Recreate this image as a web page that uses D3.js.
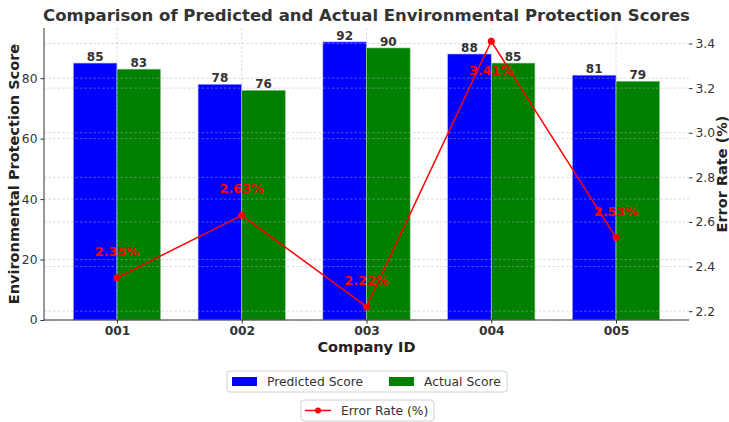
<!DOCTYPE html>
<html><head><meta charset="utf-8">
<script src="https://cdn.jsdelivr.net/npm/d3@7"></script>
<style>body{margin:0;background:#fff}svg{display:block}text{font-family:"DejaVu Sans",sans-serif}</style>
</head><body>
<svg id="c" width="729" height="422"></svg>
<script>
const categories = ["001","002","003","004","005"];
const predicted = [85,78,92,88,81];
const actual = [83,76,90,85,79];
const errorRate = [2.35,2.63,2.22,3.41,2.53];
const leftTicks = [0,20,40,60,80];
const rightTicks = [2.2,2.4,2.6,2.8,3.0,3.2,3.4];
const seriesNames = ["Predicted Score","Actual Score","Error Rate (%)"];

const svg = d3.select("#c");
const L = 44, R = 689, T = 28, B = 320;
const barW = 0.35;
const span = categories.length-1+2*barW;
const x = d3.scaleLinear().domain([-barW - 0.05*span, categories.length-1+barW+0.05*span]).range([L,R]);
const yL = d3.scaleLinear().domain([0, d3.max(predicted.concat(actual))*1.05]).range([B,T]);
const eMin = d3.min(errorRate), eMax = d3.max(errorRate), eP = (eMax-eMin)*0.05;
const yR = d3.scaleLinear().domain([eMin-eP, eMax+eP]).range([B,T]);
const textCol = "#333";
const gridStyle = g => g.attr("stroke","#b0b0b0").attr("stroke-opacity",0.6).attr("stroke-dasharray","2.5,2").attr("stroke-width",0.8);

// bars
const bw = x(barW) - x(0);
svg.append("g").selectAll("rect.p").data(predicted).join("rect")
  .attr("x",(d,i)=>x(i)-bw).attr("y",d=>yL(d)).attr("width",bw).attr("height",d=>B-yL(d))
  .attr("fill","#0000ff").attr("stroke","#b8b8ff").attr("stroke-width",0.6);
svg.append("g").selectAll("rect.a").data(actual).join("rect")
  .attr("x",(d,i)=>x(i)).attr("y",d=>yL(d)).attr("width",bw).attr("height",d=>B-yL(d))
  .attr("fill","#008000").attr("stroke","#a0d0a0").attr("stroke-width",0.6);

// grids
const grid = svg.append("g");
grid.selectAll("line.gl").data(leftTicks).join("line").attr("x1",L).attr("x2",R).attr("y1",d=>yL(d)).attr("y2",d=>yL(d)).call(gridStyle);
grid.selectAll("line.gv").data(categories).join("line").attr("x1",(d,i)=>x(i)).attr("x2",(d,i)=>x(i)).attr("y1",T).attr("y2",B).call(gridStyle);
grid.selectAll("line.gr").data(rightTicks).join("line").attr("x1",L).attr("x2",R).attr("y1",d=>yR(d)).attr("y2",d=>yR(d)).call(gridStyle);

// bar labels
svg.append("g").selectAll("text").data(predicted).join("text")
  .attr("x",(d,i)=>x(i)-bw/2).attr("y",d=>yL(d)-2).attr("text-anchor","middle")
  .attr("font-size",12).attr("font-weight","bold").attr("fill",textCol).text(d=>d);
svg.append("g").selectAll("text").data(actual).join("text")
  .attr("x",(d,i)=>x(i)+bw/2).attr("y",d=>yL(d)-2).attr("text-anchor","middle")
  .attr("font-size",12).attr("font-weight","bold").attr("fill",textCol).text(d=>d);

// axes
const axL = svg.append("g").attr("transform",`translate(${L},0)`)
  .call(d3.axisLeft(yL).tickValues(leftTicks).tickSize(3.5).tickPadding(3));
const axR = svg.append("g").attr("transform",`translate(${R},0)`)
  .call(d3.axisRight(yR).tickValues(rightTicks).tickFormat(d3.format(".1f")).tickSize(3.5).tickPadding(3));
const axB = svg.append("g").attr("transform",`translate(0,${B})`)
  .call(d3.axisBottom(x).tickValues(categories.map((d,i)=>i)).tickFormat(i=>categories[i]).tickSize(3.5).tickPadding(3));
[axL,axR,axB].forEach(a=>{a.selectAll("text").attr("font-size",12.3).attr("fill",textCol).style("font-family","DejaVu Sans");a.selectAll("line").attr("stroke","#333");});
axB.selectAll("text").attr("font-weight","bold");
axL.select(".domain").attr("d",`M0,${B}V${T}`).attr("stroke","#333");
axR.select(".domain").remove();
axB.select(".domain").attr("d",`M${L},0H${R}`).attr("stroke","#333");

// line
const line = d3.line().x((d,i)=>x(i)).y(d=>yR(d));
svg.append("path").datum(errorRate).attr("d",line).attr("fill","none").attr("stroke","#ff0000").attr("stroke-width",1.5);
svg.append("g").selectAll("circle").data(errorRate).join("circle")
  .attr("cx",(d,i)=>x(i)).attr("cy",d=>yR(d)).attr("r",3.5).attr("fill","#ff0000");
svg.append("g").selectAll("text").data(errorRate).join("text")
  .attr("x",(d,i)=>x(i)).attr("y",d=> d===eMax ? yR(d)+34 : yR(d)-22).attr("text-anchor","middle")
  .attr("font-size",12.8).attr("font-weight","bold").attr("fill","#ff0000").text(d=>d.toFixed(2)+"%");

// titles
svg.append("text").attr("x",(L+R)/2).attr("y",21).attr("text-anchor","middle").attr("font-size",16.5).attr("font-weight","bold").attr("fill",textCol)
  .text("Comparison of Predicted and Actual Environmental Protection Scores");
svg.append("text").attr("x",(L+R)/2).attr("y",352).attr("text-anchor","middle").attr("font-size",14.5).attr("font-weight","bold").attr("fill","#222").text("Company ID");
svg.append("text").attr("transform",`translate(19,${(T+B)/2}) rotate(-90)`).attr("text-anchor","middle").attr("font-size",14.5).attr("font-weight","bold").attr("fill","#222").text("Environmental Protection Score");
svg.append("text").attr("transform",`translate(727,${(T+B)/2}) rotate(-90)`).attr("text-anchor","middle").attr("font-size",14.5).attr("font-weight","bold").attr("fill","#222").text("Error Rate (%)");

// legends
const lg1 = svg.append("g");
lg1.append("rect").attr("x",227).attr("y",371).attr("width",280).attr("height",21).attr("rx",3).attr("fill","#fff").attr("stroke","#d0d0d0");
const items = [{n:seriesNames[0],c:"#0000ff",x:232},{n:seriesNames[1],c:"#008000",x:389}];
items.forEach(it=>{
  lg1.append("rect").attr("x",it.x).attr("y",377).attr("width",25).attr("height",9).attr("fill",it.c);
  lg1.append("text").attr("x",it.x+35).attr("y",386).attr("font-size",12.3).attr("fill",textCol).text(it.n);
});
const lg2 = svg.append("g");
lg2.append("rect").attr("x",301).attr("y",400).attr("width",133).attr("height",21).attr("rx",3).attr("fill","#fff").attr("stroke","#d0d0d0");
lg2.append("line").attr("x1",305).attr("x2",331).attr("y1",410.5).attr("y2",410.5).attr("stroke","#ff0000").attr("stroke-width",1.5);
lg2.append("circle").attr("cx",318).attr("cy",410.5).attr("r",3).attr("fill","#ff0000");
lg2.append("text").attr("x",341).attr("y",415).attr("font-size",12.3).attr("fill",textCol).text(seriesNames[2]);
</script>
</body></html>
